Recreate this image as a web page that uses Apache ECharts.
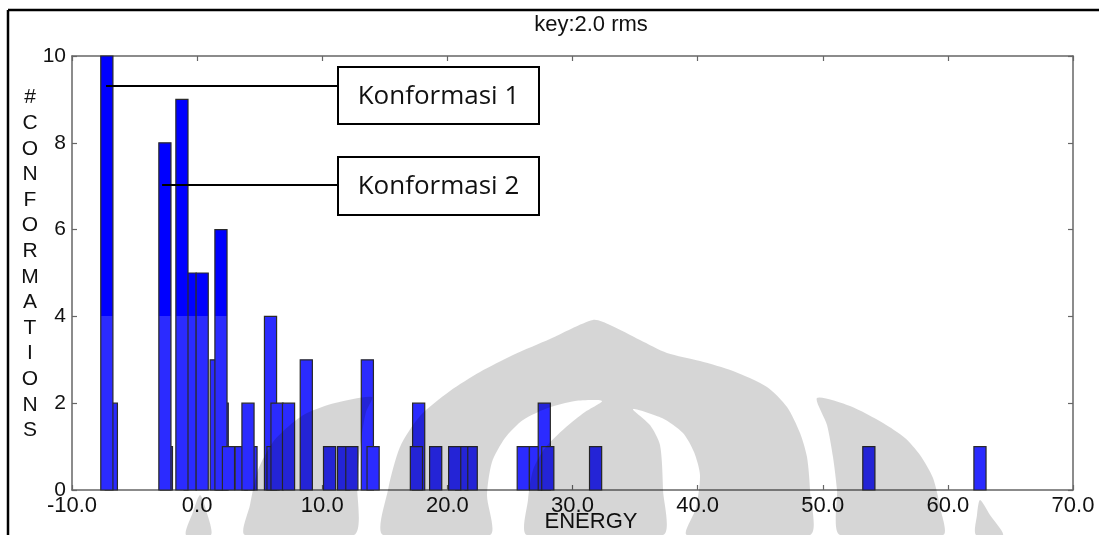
<!DOCTYPE html>
<html><head><meta charset="utf-8">
<script src="https://cdn.jsdelivr.net/npm/echarts@6/dist/echarts.min.js"></script>
<style>html,body{margin:0;padding:0;background:#fff}#c{width:1099px;height:535px}</style>
</head><body><div id="c"></div>
<script>
// Bar left edges (ENERGY) and heights (# conformations), listed in drawing order
const energies = [-7.34, -7.70, -2.94, -3.06, -1.04, -1.70, -0.08, 1.52, 1.04, 1.42, 2.02, 3.04, 3.82, 3.58,
  5.38, 5.58, 5.90, 6.82, 8.24, 10.10, 11.22, 11.88, 13.12, 13.58, 17.22, 17.04, 18.58,
  21.42, 20.66, 20.10, 25.58, 26.56, 27.26, 27.54, 31.36, 53.20, 62.08];
const counts = [2, 10, 1, 8, 5, 9, 5, 2, 3, 6, 1, 1, 1, 2,
  4, 1, 2, 2, 3, 1, 1, 1, 3, 1, 2, 1, 1,
  1, 1, 1, 1, 1, 2, 1, 1, 1, 1];
const BIN = 0.97;
const xTickValues = [-10, 0, 10, 20, 30, 40, 50, 60, 70];
const yTickValues = [0, 2, 4, 6, 8, 10];
const annotLabels = ['Konformasi 1', 'Konformasi 2'];
const annotEnergy = [-7.28, -2.8];
const annotCount = [9.31, 7.03];
const yName = '#CONFORMATIONS';

const FONT = '"Liberation Sans", Arial, sans-serif';
const chart = echarts.init(document.getElementById('c'));
const axisLineStyle = { color: '#666', width: 1.5 };
function xAxisDef(pos, labels) {
  return {
    type: 'value', position: pos, min: xTickValues[0], max: xTickValues[xTickValues.length - 1], interval: 10,
    axisLine: { show: true, onZero: false, lineStyle: axisLineStyle },
    axisTick: { show: true, inside: true, length: 5, lineStyle: { color: '#666', width: 1.2 } },
    axisLabel: { show: labels, fontSize: 22, fontFamily: FONT, color: '#111', margin: 5,
      showMinLabel: true, showMaxLabel: true, formatter: v => v.toFixed(1) },
    splitLine: { show: false }
  };
}
function yAxisDef(pos, labels) {
  return {
    type: 'value', position: pos, min: yTickValues[0], max: yTickValues[yTickValues.length - 1], interval: 2,
    axisLine: { show: true, onZero: false, lineStyle: axisLineStyle },
    axisTick: { show: true, inside: true, length: 5, lineStyle: { color: '#666', width: 1.2 } },
    axisLabel: { show: labels, fontSize: 21, fontFamily: FONT, color: '#111', margin: 6,
      showMinLabel: true, showMaxLabel: true },
    splitLine: { show: false }
  };
}

chart.setOption({
  animation: false,
  backgroundColor: '#fff',
  grid: { left: 72, right: 26, top: 56, bottom: 45 },
  xAxis: [xAxisDef('bottom', true), xAxisDef('top', false)],
  yAxis: [yAxisDef('left', true), yAxisDef('right', false)],
  series: [{
    type: 'custom',
    xAxisIndex: 0, yAxisIndex: 0,
    data: energies.map((e, i) => [e, counts[i]]),
    encode: { x: 0, y: 1 },
    renderItem: function (params, api) {
      const e = api.value(0), h = api.value(1);
      const p0 = api.coord([e, h]);
      const p1 = api.coord([e + BIN, 0]);
      const y4 = api.coord([0, 4])[1];
      return {
        type: 'rect',
        shape: { x: p0[0], y: p0[1], width: p1[0] - p0[0], height: p1[1] - p0[1] },
        style: {
          fill: new echarts.graphic.LinearGradient(0, y4 - 1, 0, y4 + 1, [
            { offset: 0, color: '#0000ff' }, { offset: 0.5, color: '#0000ff' },
            { offset: 0.5, color: '#2b2bff' }, { offset: 1, color: '#2b2bff' }], true),
          stroke: '#2a2a2a', lineWidth: 1.2
        }
      };
    }
  }]
});

// decorations
const gfx = [];
// frame
gfx.push({ type: 'line', shape: { x1: 8, y1: 10, x2: 1099, y2: 10 }, style: { stroke: '#000', lineWidth: 2.5 }, silent: true });
gfx.push({ type: 'line', shape: { x1: 8, y1: 10, x2: 8, y2: 535 }, style: { stroke: '#000', lineWidth: 2.5 }, silent: true });
// title and axis names
gfx.push({ type: 'text', x: 591, y: 25, style: { text: 'key:2.0 rms', font: '22px ' + FONT, fill: '#111', align: 'center', verticalAlign: 'middle' }, silent: true });
gfx.push({ type: 'text', x: 591, y: 522, style: { text: 'ENERGY', font: '22px ' + FONT, fill: '#111', align: 'center', verticalAlign: 'middle' }, silent: true });
gfx.push({ type: 'text', x: 30, y: 264, style: { text: yName.split('').join('\n'), font: '21px ' + FONT, lineHeight: 25.6, fill: '#111', align: 'center', verticalAlign: 'middle' }, silent: true });

// annotations
const boxes = [{ x: 338, y: 67, w: 201, h: 57 }, { x: 338, y: 157, w: 201, h: 58 }];
annotLabels.forEach((lab, i) => {
  const p = chart.convertToPixel({ xAxisIndex: 0, yAxisIndex: 0 }, [annotEnergy[i], annotCount[i]]);
  const b = boxes[i];
  gfx.push({ type: 'line', z: 60, shape: { x1: p[0], y1: p[1], x2: b.x, y2: p[1] }, style: { stroke: '#000', lineWidth: 2 }, silent: true });
  gfx.push({ type: 'rect', z: 60, shape: { x: b.x, y: b.y, width: b.w, height: b.h }, style: { fill: '#fff', stroke: '#000', lineWidth: 2 }, silent: true });
  gfx.push({ type: 'text', z: 61, x: b.x + b.w / 2, y: b.y + b.h / 2 + 1, style: { text: lab, font: '26px "Open Sans", "Noto Sans", sans-serif', fill: '#111', align: 'center', verticalAlign: 'middle' }, silent: true });
});

// faint watermark (logo) overlay
const wm = [
  [[186,535],[193,512],[200,495],[206,510],[211,535]],
  [[245,535],[250,505],[258,470],[273,442],[290,425],[307,413],[335,403],[372,397],[366,412],[361,440],[357,480],[354,535]],
  [[383,535],[388,490],[400,447],[420,416],[450,391],[480,372],[513,355],[550,339],[593,320],[610,325],[640,340],[667,353],[700,361],[733,371],[767,387],[787,407],[800,433],[807,457],[810,490],[810,535],
   [687,535],[696,508],[700,475],[694,452],[683,433],[662,418],[633,409],[650,425],[660,445],[663,490],[663,535],
   [527,535],[528,500],[533,470],[545,448],[565,428],[585,412],[602,401],[575,401],[548,408],[523,420],[505,438],[492,462],[487,495],[490,535]],
  [[817,398],[850,406],[883,423],[905,438],[920,455],[933,478],[940,507],[943,535],[840,535],[837,490],[833,457],[827,425]],
  [[980,500],[990,515],[1003,535],[976,535],[977,515]]
];
wm.forEach(pts => gfx.push({ type: 'polygon', z: 50, silent: true, shape: { points: pts, smooth: 0.25 }, style: { fill: '#d6d6d6', blend: 'multiply' } }));

chart.setOption({ graphic: { elements: gfx } });
</script></body></html>
